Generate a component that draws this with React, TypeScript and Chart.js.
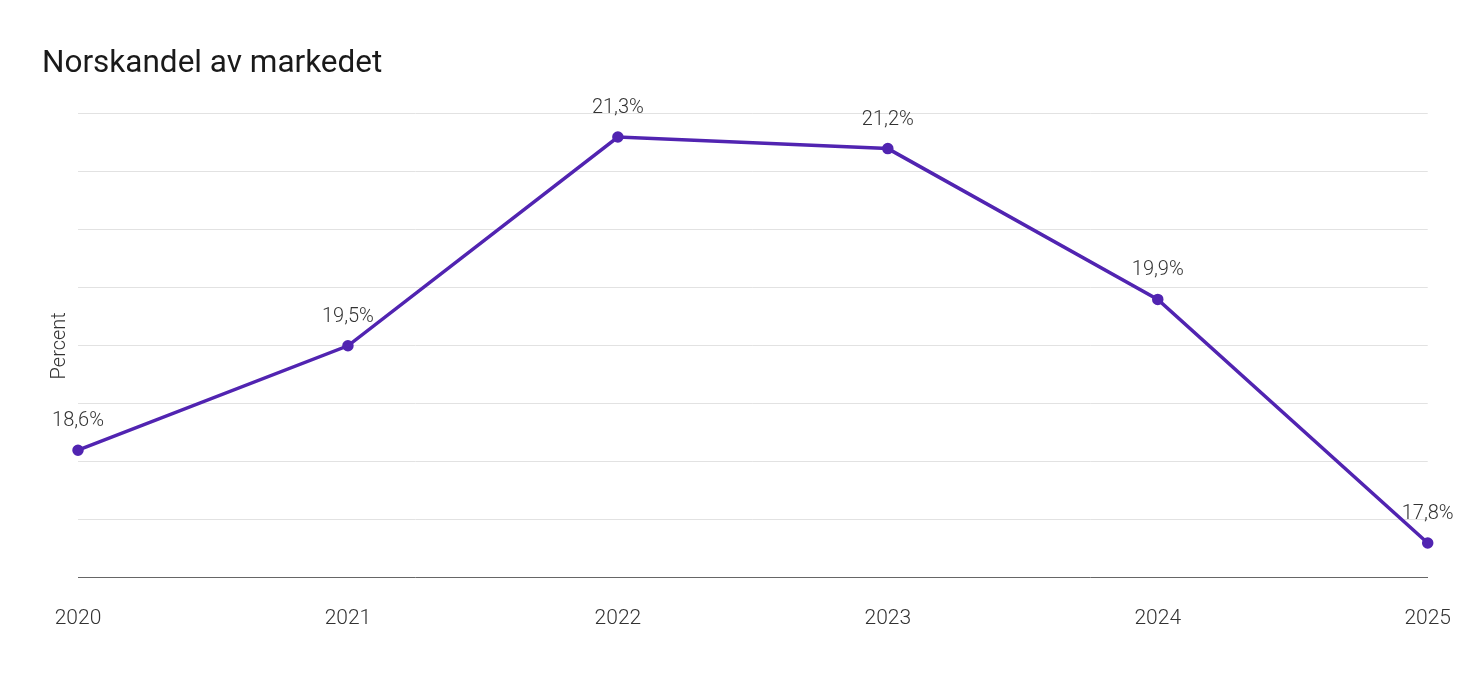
import React, { useEffect, useRef } from "react";
import { Chart, registerables } from "chart.js";

Chart.register(...registerables);

const years = ["2020", "2021", "2022", "2023", "2024", "2025"];
const share = [18.6, 19.5, 21.3, 21.2, 19.9, 17.8];
const valueLabels = ["18,6%", "19,5%", "21,3%", "21,2%", "19,9%", "17,8%"];

const FONT = "Roboto, 'Noto Sans', sans-serif";

const pointLabels = {
  id: "pointLabels",
  afterDatasetsDraw(chart: any) {
    const meta = chart.getDatasetMeta(0);
    const ctx = chart.ctx;
    ctx.save();
    ctx.font = `300 20px ${FONT}`;
    ctx.fillStyle = "#333333";
    ctx.textAlign = "center";
    ctx.textBaseline = "middle";
    meta.data.forEach((pt: any, i: number) => {
      ctx.fillText(valueLabels[i], pt.x, pt.y - 29);
    });
    ctx.restore();
  },
};

export default function App() {
  const ref = useRef<HTMLCanvasElement | null>(null);
  useEffect(() => {
    if (!ref.current) return;
    const chart = new Chart(ref.current, {
      type: "line",
      data: {
        labels: years,
        datasets: [
          {
            data: share,
            borderColor: "#5124b1",
            backgroundColor: "#5124b1",
            borderWidth: 3.5,
            pointRadius: 4,
            pointHoverRadius: 4,
            tension: 0,
          },
        ],
      },
      options: {
        animation: false,
        responsive: true,
        maintainAspectRatio: false,
        layout: { padding: { left: 42, right: 45, top: 45, bottom: 26 } },
        plugins: {
          legend: { display: false },
          tooltip: { enabled: false },
          title: {
            display: true,
            text: "Norskandel av markedet",
            align: "start",
            color: "#1a1a1a",
            font: { family: FONT, size: 31.5, weight: "normal" },
            padding: { top: 0, bottom: 31 },
          },
        },
        scales: {
          x: {
            grid: { display: false, drawTicks: false },
            border: { display: true, color: "#666666", width: 1 },
            ticks: {
              color: "#333333",
              font: { family: FONT, size: 21, weight: 300 },
              padding: 28,
              maxRotation: 0,
              autoSkip: false,
            },
          },
          y: {
            min: 17.5,
            max: 21.5,
            ticks: { display: false, stepSize: 0.5 },
            grid: { color: "#e2e2e2", drawTicks: false, lineWidth: 1 },
            border: { display: false },
            title: {
              display: true,
              text: "Percent",
              color: "#333333",
              font: { family: FONT, size: 20, weight: 300 },
              padding: { top: 6, bottom: 6 },
            },
          },
        },
      },
      plugins: [pointLabels],
    });
    return () => chart.destroy();
  }, []);
  return (
    <div style={{ position: "fixed", left: 0, top: 0, width: 1479, height: 685, background: "#fff" }}>
      <canvas ref={ref} />
    </div>
  );
}
